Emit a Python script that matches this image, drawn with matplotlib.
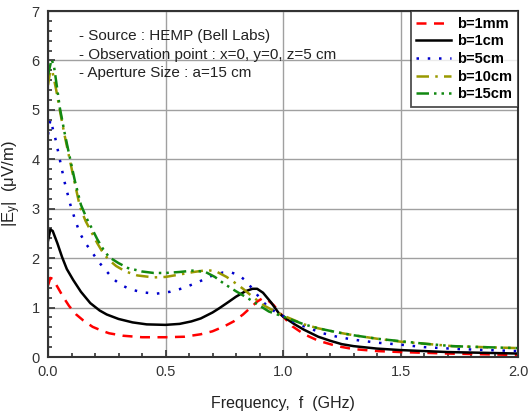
import matplotlib
matplotlib.use("Agg")
import matplotlib.pyplot as plt
from matplotlib.ticker import MultipleLocator

plt.rcParams['font.family'] = ['Liberation Sans', 'DejaVu Sans']
plt.rcParams['mathtext.fontset'] = 'custom'
plt.rcParams['mathtext.rm'] = 'Liberation Sans'
plt.rcParams['mathtext.it'] = 'Liberation Sans'

# ---- data (frequency in GHz, |Ey| in uV/m) ----
f_1mm = [0, 0.01, 0.02, 0.04, 0.064, 0.09, 0.12, 0.15, 0.19, 0.23, 0.26, 0.32, 0.40, 0.50, 0.58, 0.65, 0.70, 0.75, 0.79, 0.83, 0.86, 0.89, 0.91, 0.93, 0.96, 1.0, 1.04, 1.09, 1.15, 1.23, 1.3, 1.4, 1.5, 1.7, 2.0]
e_1mm = [1.45, 1.6, 1.58, 1.42, 1.22, 1.03, 0.86, 0.74, 0.61, 0.53, 0.48, 0.43, 0.40, 0.40, 0.41, 0.46, 0.52, 0.62, 0.72, 0.86, 0.99, 1.12, 1.18, 1.17, 1.05, 0.82, 0.62, 0.46, 0.33, 0.22, 0.16, 0.12, 0.10, 0.07, 0.04]

f_1cm = [0, 0.01, 0.02, 0.04, 0.06, 0.08, 0.107, 0.14, 0.18, 0.22, 0.25, 0.30, 0.36, 0.42, 0.50, 0.56, 0.61, 0.65, 0.70, 0.73, 0.77, 0.80, 0.84, 0.87, 0.89, 0.915, 0.95, 0.98, 1.0, 1.05, 1.09, 1.15, 1.2, 1.25, 1.3, 1.4, 1.5, 1.7, 2.0]
e_1cm = [2.35, 2.58, 2.55, 2.3, 2.02, 1.78, 1.56, 1.32, 1.09, 0.94, 0.86, 0.77, 0.70, 0.66, 0.65, 0.67, 0.72, 0.78, 0.90, 0.99, 1.12, 1.22, 1.33, 1.38, 1.38, 1.30, 1.10, 0.90, 0.82, 0.66, 0.55, 0.41, 0.33, 0.26, 0.22, 0.17, 0.14, 0.10, 0.07]

f_5cm = [0, 0.01, 0.03, 0.05, 0.07, 0.094, 0.115, 0.136, 0.16, 0.19, 0.22, 0.25, 0.28, 0.31, 0.35, 0.40, 0.46, 0.52, 0.58, 0.62, 0.66, 0.70, 0.745, 0.78, 0.81, 0.84, 0.87, 0.90, 0.94, 1.0, 1.05, 1.1, 1.17, 1.23, 1.3, 1.4, 1.5, 1.6, 1.75, 2.0]
e_5cm = [4.5, 4.8, 4.45, 4.0, 3.55, 3.1, 2.78, 2.5, 2.3, 2.1, 1.9, 1.73, 1.57, 1.46, 1.37, 1.31, 1.28, 1.32, 1.40, 1.48, 1.56, 1.65, 1.71, 1.71, 1.66, 1.55, 1.38, 1.20, 0.99, 0.83, 0.70, 0.60, 0.48, 0.41, 0.35, 0.29, 0.25, 0.20, 0.16, 0.12]

f_10cm = [0, 0.01, 0.02, 0.035, 0.05, 0.07, 0.09, 0.11, 0.136, 0.16, 0.18, 0.21, 0.235, 0.26, 0.29, 0.33, 0.38, 0.45, 0.50, 0.55, 0.62, 0.68, 0.72, 0.76, 0.79, 0.83, 0.87, 0.92, 0.97, 1.0, 1.05, 1.09, 1.15, 1.23, 1.3, 1.4, 1.5, 1.6, 1.72, 1.85, 2.0]
e_10cm = [5.5, 5.8, 5.75, 5.4, 5.0, 4.5, 4.05, 3.6, 3.04, 2.75, 2.57, 2.3, 2.1, 1.96, 1.84, 1.73, 1.65, 1.61, 1.62, 1.66, 1.72, 1.76, 1.72, 1.62, 1.52, 1.38, 1.22, 1.04, 0.91, 0.84, 0.74, 0.66, 0.58, 0.50, 0.44, 0.37, 0.31, 0.27, 0.22, 0.20, 0.18]

f_15cm = [0, 0.015, 0.025, 0.04, 0.05, 0.07, 0.09, 0.115, 0.14, 0.165, 0.19, 0.21, 0.235, 0.26, 0.30, 0.34, 0.40, 0.45, 0.50, 0.56, 0.62, 0.67, 0.71, 0.75, 0.80, 0.85, 0.90, 0.94, 1.0, 1.05, 1.09, 1.15, 1.23, 1.3, 1.4, 1.5, 1.6, 1.72, 1.85, 2.0]
e_15cm = [5.7, 6.02, 5.9, 5.4, 5.05, 4.55, 4.1, 3.55, 3.08, 2.8, 2.57, 2.38, 2.18, 2.02, 1.90, 1.80, 1.73, 1.70, 1.70, 1.72, 1.75, 1.72, 1.62, 1.48, 1.33, 1.19, 1.04, 0.92, 0.82, 0.73, 0.66, 0.58, 0.50, 0.44, 0.37, 0.32, 0.27, 0.22, 0.20, 0.18]

labels = ['b=1mm', 'b=1cm', 'b=5cm', 'b=10cm', 'b=15cm']
notes = ['- Source : HEMP (Bell Labs)',
         '- Observation point : x=0, y=0, z=5 cm',
         '- Aperture Size : a=15 cm']

fig = plt.figure(figsize=(5.29, 4.15), dpi=100)
ax = fig.add_axes([48/529, 58/415, 470/529, 346/415])

lw = 1.8
ax.plot(f_1mm, e_1mm, color='#ff0000', lw=lw, linestyle=(0, (4, 3)), label=labels[0])
ax.plot(f_1cm, e_1cm, color='#000000', lw=lw, linestyle='-', label=labels[1])
ax.plot(f_5cm, e_5cm, color='#0000cc', lw=lw, linestyle=(0, (1, 3.5)), label=labels[2])
ax.plot(f_10cm, e_10cm, color='#999900', lw=lw, linestyle=(0, (5, 2.5, 1, 2.5)), label=labels[3])
ax.plot(f_15cm, e_15cm, color='#118811', lw=lw, linestyle=(0, (5, 2, 1, 2, 1, 2)), label=labels[4])

ax.set_xlim(0, 2.0)
ax.set_ylim(0, 7)
ax.xaxis.set_major_locator(MultipleLocator(0.5))
ax.xaxis.set_minor_locator(MultipleLocator(0.1))
ax.yaxis.set_major_locator(MultipleLocator(1))
ax.yaxis.set_minor_locator(MultipleLocator(0.2))
ax.xaxis.set_major_formatter(matplotlib.ticker.FormatStrFormatter('%.1f'))
ax.tick_params(which='both', direction='in', top=False, right=False, labelsize=10.5, width=1.2, colors='#333333')
ax.tick_params(which='major', length=5, pad=6)
ax.tick_params(which='minor', length=3)
ax.grid(True, which='major', color='#a0a0a0', lw=1.0)
ax.set_axisbelow(True)
for s in ax.spines.values():
    s.set_linewidth(1.5)
    s.set_color('#333333')

ax.set_xlabel('Frequency,  f  (GHz)', fontsize=11.5, labelpad=12, color='#222222')
ax.set_ylabel('|E$_y$|  (μV/m)', fontsize=12, labelpad=6, color='#222222')

for i, t in enumerate(notes):
    ax.text(0.065, 0.927 - i * 0.053, t, transform=ax.transAxes, fontsize=11,
            va='center', ha='left', color='#222222')

leg = ax.legend(loc='upper right', frameon=True, fancybox=False, edgecolor='#222222',
                prop={'weight': 'bold', 'size': 10.5}, handlelength=2.4, handletextpad=0.4,
                labelspacing=0.25, borderaxespad=0.0, borderpad=0.4)
leg.get_frame().set_linewidth(1.3)

fig.savefig('out.png', dpi=100)
